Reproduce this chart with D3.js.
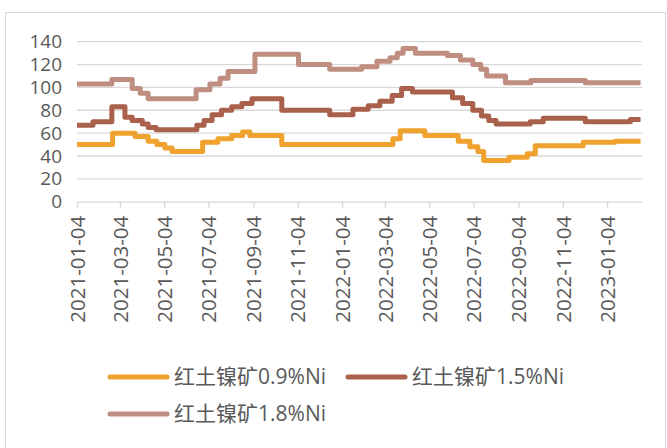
<!DOCTYPE html>
<html>
<head>
<meta charset="utf-8">
<script src="https://cdn.jsdelivr.net/npm/d3@7"></script>
<style>
  body { margin: 0; background: #fff; }
  text { font-family: "Open Sans", "Noto Sans CJK SC", sans-serif; fill: #595959; }
</style>
</head>
<body>
<div id="chart"></div>
<script>
window.addEventListener('DOMContentLoaded', function() {

  // change points (price steps) for each grade
  var dates09 = ['2021-01-04','2021-02-22','2021-03-25','2021-04-12','2021-04-24','2021-05-05','2021-05-15',
                 '2021-06-26','2021-07-17','2021-08-05','2021-08-20','2021-08-30','2021-10-13','2022-03-15',
                 '2022-03-25','2022-04-28','2022-06-13','2022-06-29','2022-07-10','2022-07-18','2022-08-22',
                 '2022-09-16','2022-09-27','2022-12-02','2023-01-15','2023-02-19'];
  var values09 = [50,60,57,53,50,47,44,52,55,58,61,58,50,55,62,58,53,48,44,36,39,42,49,52,53,53];

  var dates15 = ['2021-01-04','2021-01-26','2021-02-21','2021-03-11','2021-03-21','2021-04-04','2021-04-12',
                 '2021-04-23','2021-06-18','2021-06-28','2021-07-09','2021-07-22','2021-08-05','2021-08-19',
                 '2021-09-02','2021-10-13','2021-12-18','2022-01-19','2022-02-09','2022-02-25','2022-03-14',
                 '2022-03-27','2022-04-11','2022-06-05','2022-06-19','2022-07-03','2022-07-15','2022-07-25',
                 '2022-08-04','2022-09-20','2022-10-08','2022-12-05','2023-02-05','2023-02-19'];
  var values15 = [67,70,83,74,71,68,65,63,67,71,76,80,83,86,90,80,76,81,84,88,93,99,96,91,86,80,75,71,
                  68,70,73,70,72,72];

  var dates18 = ['2021-01-04','2021-02-21','2021-03-21','2021-04-01','2021-04-12','2021-06-17','2021-07-06',
                 '2021-07-20','2021-07-31','2021-09-06','2021-11-05','2021-12-18','2022-01-31','2022-02-21',
                 '2022-03-11','2022-03-21','2022-03-29','2022-04-15','2022-05-29','2022-06-16','2022-07-03',
                 '2022-07-14','2022-07-22','2022-08-17','2022-09-21','2022-12-05','2023-02-19'];
  var values18 = [103,107,99,95,90,98,103,108,114,129,120,116,118,123,126,130,134,130,128,124,120,116,110,
                  104,106,104,104];

  var seriesNames = ['红土镍矿0.9%Ni', '红土镍矿1.5%Ni', '红土镍矿1.8%Ni'];
  var seriesColors = ['#F0A22E', '#A9614B', '#C08E80'];
  var xTickLabels = ['2021-01-04','2021-03-04','2021-05-04','2021-07-04','2021-09-04','2021-11-04',
                     '2022-01-04','2022-03-04','2022-05-04','2022-07-04','2022-09-04','2022-11-04','2023-01-04'];
  var yTicks = [0, 20, 40, 60, 80, 100, 120, 140];

  var w = 667, h = 448;
  var parse = d3.timeParse('%Y-%m-%d');
  var fmt = d3.timeFormat('%Y-%m-%d');

  var svg = d3.select('#chart').append('svg').attr('width', w).attr('height', h);

  svg.append('rect')
     .attr('x', 5.5).attr('y', 12.5).attr('width', 660).attr('height', 460)
     .attr('fill', 'none').attr('stroke', '#d9d9d9');

  var xScale = d3.scaleTime()
                 .domain([parse('2021-01-04'), parse('2023-02-21')])
                 .range([77, 642]);
  var yScale = d3.scaleLinear().domain([0, 140]).range([201.7, 41.7]);

  // gridlines
  svg.append('g').selectAll('line')
     .data(yTicks.filter(d => d > 0))
     .enter().append('line')
     .attr('x1', 77).attr('x2', 642)
     .attr('y1', d => yScale(d)).attr('y2', d => yScale(d))
     .attr('stroke', '#d9d9d9').attr('stroke-width', 1.3);

  // y axis labels
  var yAxis = d3.axisLeft(yScale).tickValues(yTicks).tickSize(0).tickPadding(15);
  var gy = svg.append('g').attr('transform', 'translate(77,0)').call(yAxis);
  gy.select('.domain').remove();
  gy.selectAll('text').style('font-size', '19px').attr('fill', '#595959');

  // x axis
  var xAxis = d3.axisBottom(xScale)
                .tickValues(xTickLabels.map(parse))
                .tickFormat(fmt)
                .tickSize(6)
                .tickSizeOuter(0);
  var gx = svg.append('g').attr('transform', `translate(0,${yScale(0)})`).call(xAxis);
  gx.select('.domain').attr('stroke', '#d9d9d9').attr('stroke-width', 1.3);
  gx.selectAll('.tick line').attr('stroke', '#d9d9d9').attr('stroke-width', 1.3);
  gx.selectAll('text')
    .style('font-size', '20.5px')
    .attr('fill', '#595959')
    .attr('text-anchor', 'end')
    .attr('transform', 'translate(0,14) rotate(-90)')
    .attr('x', 0).attr('y', 0).attr('dy', '0.35em');

  // lines
  var allDates = [dates09, dates15, dates18];
  var allValues = [values09, values15, values18];
  var line = d3.line()
               .x(d => xScale(d.date))
               .y(d => yScale(d.value))
               .curve(d3.curveStepAfter);

  allDates.forEach(function(ds, i) {
    var pts = ds.map((d, j) => ({ date: parse(d), value: allValues[i][j] }));
    svg.append('path')
       .datum(pts)
       .attr('d', line)
       .attr('fill', 'none')
       .attr('stroke', seriesColors[i])
       .attr('stroke-width', 5)
       .attr('stroke-linejoin', 'round');
  });

  // legend
  var legendPos = [[110, 377], [348, 377], [110, 414]];
  var lg = svg.append('g').selectAll('g')
              .data(seriesNames)
              .enter().append('g')
              .attr('transform', (d, i) => `translate(${legendPos[i][0]},${legendPos[i][1]})`);
  lg.append('line')
    .attr('x1', 0).attr('x2', 57).attr('y1', 0).attr('y2', 0)
    .attr('stroke', (d, i) => seriesColors[i])
    .attr('stroke-width', 5).attr('stroke-linecap', 'round');
  lg.append('text')
    .attr('x', 64).attr('dy', '0.35em')
    .style('font-size', '21px')
    .text(d => d);
});
</script>
</body>
</html>
